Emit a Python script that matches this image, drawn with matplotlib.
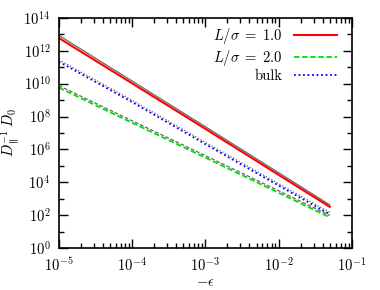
import numpy as np
import matplotlib
matplotlib.use("Agg")
import matplotlib.pyplot as plt
from matplotlib.ticker import LogLocator, FixedLocator, NullFormatter

plt.rcParams['font.family'] = 'serif'
plt.rcParams['font.serif'] = ['cmr10', 'DejaVu Serif']
plt.rcParams['mathtext.fontset'] = 'cm'
plt.rcParams['axes.formatter.use_mathtext'] = True

eps = [1e-5, 1e-4, 1e-3, 1e-2, 5e-2]

# log10 of D_par^-1 D_0
logD_L1 = [12.78, 10.02, 7.25, 4.45, 2.50]
logD_L2 = [9.76, 7.62, 5.50, 3.36, 1.86]
logD_bulk = [11.34, 8.88, 6.32, 3.80, 2.05]
# grey companion curves just above each coloured one
logD_L1_ref = [12.94, 10.16, 7.38, 4.58, 2.62]
logD_L2_ref = [9.88, 7.74, 5.62, 3.48, 1.98]
logD_bulk_ref = [11.45, 8.99, 6.43, 3.91, 2.16]

labels = [r'$L/\sigma\;=\;1.0$', r'$L/\sigma\;=\;2.0$', 'bulk']

fig = plt.figure(figsize=(3.8, 2.9), dpi=100)
ax = fig.add_axes([0.155, 0.145, 0.771, 0.793])

grey = '0.4'
ax.plot(eps, 10**np.array(logD_L1_ref), color=grey, lw=0.9, ls='-')
ax.plot(eps, 10**np.array(logD_L2_ref), color=grey, lw=0.9, ls=(0, (3, 1.5)))
ax.plot(eps, 10**np.array(logD_bulk_ref), color=grey, lw=0.9, ls=(0, (1, 1.5)))

ax.plot(eps, 10**np.array(logD_L1), color='#ff0000', lw=1.5, ls='-', label=labels[0])
ax.plot(eps, 10**np.array(logD_L2), color='#00dd00', lw=1.3, ls=(0, (3, 1.5)), label=labels[1])
ax.plot(eps, 10**np.array(logD_bulk), color='#0000ff', lw=1.3, ls=(0, (1, 1.5)), label=labels[2])

ax.set_xscale('log')
ax.set_yscale('log')
ax.set_xlim(1e-5, 1e-1)
ax.set_ylim(1e0, 1e14)

ax.yaxis.set_major_locator(FixedLocator([10.0**k for k in range(0, 15, 2)]))
ax.yaxis.set_minor_locator(FixedLocator([10.0**k for k in range(1, 14, 2)]))
ax.yaxis.set_minor_formatter(NullFormatter())
ax.xaxis.set_major_locator(LogLocator(base=10, numticks=10))
ax.xaxis.set_minor_locator(LogLocator(base=10, subs=np.arange(2, 10), numticks=20))
ax.xaxis.set_minor_formatter(NullFormatter())

ax.tick_params(which='both', direction='in', top=True, right=True, labelsize=10.5, width=1.0)
ax.tick_params(which='major', length=6.5)
ax.tick_params(which='minor', length=3.5)
ax.tick_params(axis='y', which='major', pad=6)
ax.tick_params(axis='x', which='major', pad=6)
for s in ax.spines.values():
    s.set_linewidth(1.2)

ax.set_xlabel(r'$-\epsilon$', fontsize=10.5, labelpad=1)
ax.set_ylabel(r'$D_\parallel^{-1}\,D_0$', fontsize=10.5, labelpad=1)

ax.legend(loc='upper right', bbox_to_anchor=(0.975, 1.0), frameon=False,
          markerfirst=False, fontsize=10.5, handlelength=2.9,
          handletextpad=0.8, labelspacing=0.12, borderaxespad=0.15)

fig.savefig('out.png', dpi=100)
